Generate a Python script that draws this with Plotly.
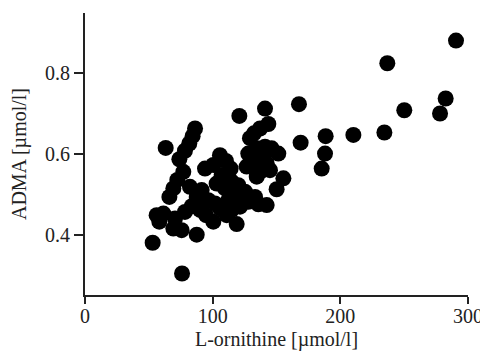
import plotly.graph_objects as go

ornithine = [290.6, 236.8, 282.5, 278.1, 250.1, 234.5, 210.2, 188.5, 188.0, 185.4,
             167.6, 168.9, 120.9, 141.0, 143.6, 76.0, 53.0, 87.5, 63.2, 118.8,
             155.4, 150.1, 142.3,
             86.2, 84.3, 81.7, 78.3, 73.9, 77.0, 72.3, 69.2, 66.1, 56.1,
             58.2, 61.4, 70.5, 75.7, 69.2, 78.3, 83.6, 90.1, 94.8, 100.5,
             91.4, 96.6, 101.8, 94.0, 100.5, 105.7, 110.4, 114.1, 107.0, 103.1,
             109.7, 114.9, 120.1, 112.3, 117.5, 122.7, 125.3, 114.9, 121.4, 127.9,
             133.2, 135.8, 111.0, 105.7, 82.2, 87.5,
             137.1, 132.4, 129.2, 127.9, 131.9, 135.0, 141.0, 146.2, 151.4, 142.3,
             144.9, 137.1, 134.5, 126.6, 139.7]
adma = [0.881, 0.825, 0.738, 0.701, 0.709, 0.654, 0.648, 0.645, 0.602, 0.565,
        0.724, 0.629, 0.695, 0.713, 0.675, 0.306, 0.382, 0.402, 0.616, 0.428,
        0.541, 0.514, 0.475,
        0.664, 0.645, 0.627, 0.609, 0.588, 0.557, 0.537, 0.516, 0.495, 0.450,
        0.434, 0.454, 0.442, 0.413, 0.417, 0.458, 0.472, 0.463, 0.450, 0.434,
        0.512, 0.487, 0.479, 0.565, 0.574, 0.598, 0.584, 0.565, 0.549, 0.528,
        0.516, 0.533, 0.524, 0.487, 0.504, 0.487, 0.508, 0.463, 0.471, 0.483,
        0.495, 0.477, 0.450, 0.467, 0.520, 0.495,
        0.664, 0.652, 0.640, 0.602, 0.586, 0.615, 0.619, 0.615, 0.602, 0.578,
        0.561, 0.557, 0.545, 0.570, 0.594]

x_ticks = [0, 100, 200, 300]
y_ticks = [0.4, 0.6, 0.8]
y_tick_text = ["0.4", "0.6", "0.8"]

font_family = "Liberation Serif"
ink = "#222222"

fig = go.Figure(go.Scatter(
    x=ornithine, y=adma, mode="markers",
    marker=dict(size=16, color="#000000", line=dict(width=0)),
    hoverinfo="skip", cliponaxis=False,
))

# the page body has an 8px margin, so the figure is 8px smaller each way
fig.update_layout(
    width=480, height=346,
    margin=dict(l=77, r=20, t=5, b=59),
    paper_bgcolor="white", plot_bgcolor="white",
    showlegend=False,
    font=dict(family=font_family, size=20, color=ink),
    xaxis=dict(
        range=[0, 300], tickvals=x_ticks, ticks="outside", ticklen=7, tickwidth=2,
        tickcolor=ink, showline=True, linewidth=2, linecolor=ink,
        showgrid=False, zeroline=False, automargin=False,
        ticklabelstandoff=-5,
        tickfont=dict(family=font_family, size=20, color=ink),
        title=dict(text="L-ornithine [µmol/l]", standoff=6,
                   font=dict(family=font_family, size=20, color=ink)),
    ),
    yaxis=dict(
        range=[0.253, 0.949], tickvals=y_ticks, ticktext=y_tick_text,
        ticks="outside", ticklen=9, tickwidth=2,
        tickcolor=ink, showline=True, linewidth=2, linecolor=ink,
        showgrid=False, zeroline=False, automargin=False,
        tickfont=dict(family=font_family, size=20, color=ink),
        title=dict(text="ADMA [µmol/l]", standoff=14,
                   font=dict(family=font_family, size=20, color=ink)),
    ),
)

fig.write_html("out.html")
